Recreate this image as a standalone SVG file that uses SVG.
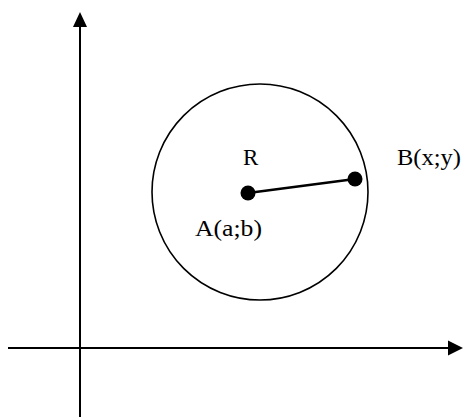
<svg xmlns="http://www.w3.org/2000/svg" width="464" height="417" viewBox="0 0 464 417">
<style>
.ax{stroke:#000;stroke-width:2;fill:none}
.lbl{font-family:"Liberation Serif","Times New Roman",serif;font-size:23px;fill:#000}
</style>
<rect width="464" height="417" fill="#fff"/>
<g id="connectors">
<line class="ax" x1="80" y1="417" x2="80" y2="26"/>
<polygon points="80,12 73,27 87,27" fill="#000"/>
<line class="ax" x1="8" y1="348" x2="449" y2="348"/>
<polygon points="463,348 448,340.5 448,355.5" fill="#000"/>
<line x1="248" y1="193" x2="355" y2="179" stroke="#000" stroke-width="2.5"/>
</g>
<g id="circle">
<circle cx="260" cy="192" r="108" fill="none" stroke="#000" stroke-width="1.6"/>
</g>
<g id="A">
<circle cx="248" cy="193" r="7.5" fill="#000"/>
<text class="lbl" x="195" y="236" textLength="67" lengthAdjust="spacingAndGlyphs">A(a;b)</text>
</g>
<g id="B">
<circle cx="355" cy="179" r="7.5" fill="#000"/>
<text class="lbl" x="397" y="165" textLength="64" lengthAdjust="spacingAndGlyphs">B(x;y)</text>
</g>
<g id="R">
<text class="lbl" x="243" y="165">R</text>
</g>
</svg>
